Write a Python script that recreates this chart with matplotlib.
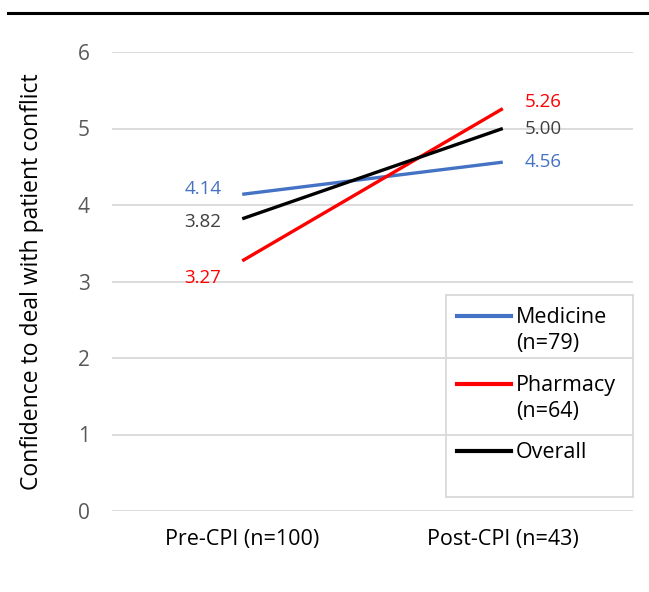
import matplotlib.pyplot as plt
from matplotlib.lines import Line2D
from matplotlib.patches import Rectangle

plt.rcParams['font.family'] = ['Open Sans', 'DejaVu Sans']

categories = ['Pre-CPI (n=100)', 'Post-CPI (n=43)']
medicine = [4.14, 4.56]
pharmacy = [3.27, 5.26]
overall = [3.82, 5.00]
series_names = ['Medicine\n(n=79)', 'Pharmacy\n(n=64)', 'Overall']

W, H = 649, 592
fig = plt.figure(figsize=(W / 100, H / 100), dpi=100)
# axes box in pixels: left 112, right 633, top 52, bottom 511
ax = fig.add_axes([112 / W, (H - 511) / H, 521 / W, 459 / H])


def px(x, y):
    """pixel position in the figure -> axes fraction"""
    return (x - 112) / 521, (511 - y) / 459


x = list(range(len(categories)))
blue, red, black, grey = '#4472C4', '#FF0000', '#000000', '#404040'
ax.plot(x, medicine, color=blue, lw=2.4, solid_capstyle='butt', zorder=3)
ax.plot(x, pharmacy, color=red, lw=2.4, solid_capstyle='butt', zorder=3)
ax.plot(x, overall, color=black, lw=2.4, solid_capstyle='butt', zorder=4)

# data labels
fs = 13.5
labels = [
    (x[0], medicine[0], (-15, 4), 'right', blue),
    (x[0], overall[0], (-15, -2), 'right', grey),
    (x[0], pharmacy[0], (-15, -12), 'right', red),
    (x[1], pharmacy[1], (16, 5), 'left', red),
    (x[1], overall[1], (16, 0), 'left', grey),
    (x[1], medicine[1], (16, 0), 'left', blue),
]
for xi, yi, off, ha, c in labels:
    ax.annotate(f'{yi:.2f}', (xi, yi), xytext=off, textcoords='offset points',
                ha=ha, va='center', color=c, fontsize=fs)

ax.set_xlim(-0.5, 1.5)
ax.set_ylim(0, 6)
ax.set_yticks(range(0, 7))
ax.set_xticks(x)
ax.set_xticklabels(categories, fontsize=15.5, color='#000000')
ax.tick_params(axis='y', labelsize=15, labelcolor='#595959', length=0, pad=16)
ax.tick_params(axis='x', length=0, pad=13)
ax.grid(axis='y', color='#D9D9D9', lw=1.3)
ax.set_axisbelow(True)
for s in ax.spines.values():
    s.set_visible(False)
ax.set_ylabel('Confidence to deal with patient conflict', fontsize=16.5, labelpad=24)

# legend box (Excel style: handle aligned with first line of text)
bx0, by0 = px(446, 497)
bx1, by1 = px(633, 295)
ax.add_patch(Rectangle((bx0, by0), bx1 - bx0, by1 - by0, transform=ax.transAxes,
                       fill=False, edgecolor='#D9D9D9', lw=1.3, clip_on=False, zorder=5))
entry_y = [316, 384, 451]
for name, c, ey in zip(series_names, (blue, red, black), entry_y):
    hx0, hy = px(457, ey)
    hx1, _ = px(511, ey)
    ax.add_line(Line2D([hx0, hx1], [hy, hy], color=c, lw=3, transform=ax.transAxes,
                       clip_on=False, zorder=6))
    tx, ty = px(516, ey - 9)
    ax.text(tx, ty, name, transform=ax.transAxes, ha='left', va='top',
            fontsize=15.5, linespacing=1.3, zorder=6)

# top rule
fig.add_artist(Line2D([8 / W, 1.0], [1 - 13 / H, 1 - 13 / H], color='black', lw=2.2,
                      transform=fig.transFigure))

fig.savefig('out.png', dpi=100)
